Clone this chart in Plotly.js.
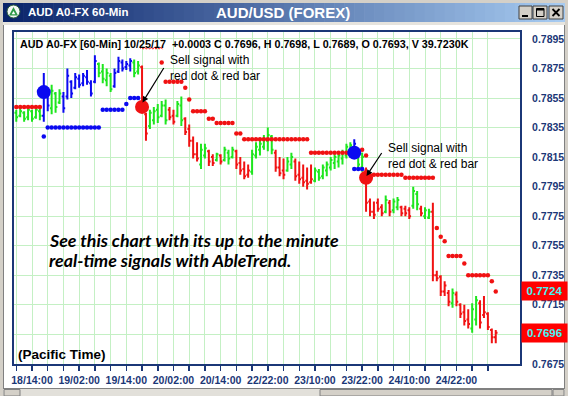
<!DOCTYPE html>
<html>
<head>
<meta charset="utf-8">
<script src="https://cdn.plot.ly/plotly-3.0.1.min.js"></script>
<style>
  html, body { margin: 0; padding: 0; background: #ffffff; }
  #chart { width: 568px; height: 396px; }
</style>
</head>
<body>
<div id="chart"></div>
<script>
// ---- AUD/USD hourly bars, 18th 10:00 to 25th (Pacific Time) ----
const firstBar = -4;   // bar number of the first bar (0 = 18/14:00)

const openP = [
  .7845,.7843,.7845,.7842,.7846,.7842,.7846,.7843,.7858,.7848,
  .7858,.7852,.7856,.7856,.7866,.7862,.7868,.7865,.7869,.7865,
  .7866,.7878,.7873,.7867,.7870,.7863,.7873,.7879,.7876,.7877,
  .7879,.7873,.7876,.7844,.7836,.7840,.7847,.7843,.7850,.7847,
  .7843,.7843,.7850,.7841,.7834,.7826,.7817,.7810,.7816,.7819,
  .7815,.7813,.7816,.7813,.7818,.7815,.7819,.7811,.7807,.7803,
  .7805,.7816,.7820,.7822,.7826,.7829,.7818,.7808,.7806,.7806,
  .7810,.7812,.7803,.7801,.7799,.7798,.7799,.7805,.7802,.7806,
  .7808,.7811,.7812,.7814,.7816,.7820,.7818,.7818,.7808,.7806,
  .7785,.7778,.7784,.7781,.7778,.7784,.7779,.7781,.7781,.7780,
  .7779,.7782,.7790,.7780,.7775,.7774,.7778,.7735,.7734,.7724,
  .7723,.7716,.7722,.7715,.7710,.7705,.7699,.7705,.7716,.7708,
  .7709,.7698,.7693
];
const highP = [
  .7847,.7848,.7846,.7848,.7847,.7849,.7848,.7872,.7862,.7864,
  .7859,.7861,.7859,.7875,.7867,.7872,.7871,.7872,.7874,.7867,
  .7884,.7879,.7878,.7875,.7872,.7875,.7883,.7881,.7880,.7882,
  .7881,.7880,.7877,.7845,.7847,.7849,.7851,.7853,.7854,.7849,
  .7847,.7853,.7856,.7842,.7837,.7829,.7825,.7824,.7824,.7820,
  .7817,.7818,.7817,.7822,.7820,.7822,.7820,.7815,.7812,.7810,
  .7820,.7825,.7827,.7830,.7835,.7830,.7820,.7815,.7814,.7815,
  .7818,.7814,.7812,.7810,.7808,.7810,.7808,.7807,.7810,.7812,
  .7815,.7817,.7818,.7820,.7824,.7825,.7827,.7820,.7818,.7808,
  .7787,.7785,.7787,.7783,.7789,.7786,.7787,.7788,.7782,.7782,
  .7781,.7795,.7792,.7782,.7781,.7780,.7784,.7738,.7735,.7731,
  .7725,.7726,.7724,.7716,.7715,.7712,.7716,.7721,.7718,.7721,
  .7710,.7699,.7698
];
const lowP = [
  .7839,.7842,.7839,.7840,.7839,.7841,.7840,.7839,.7846,.7844,
  .7845,.7851,.7845,.7854,.7855,.7861,.7862,.7863,.7864,.7856,
  .7865,.7869,.7865,.7863,.7859,.7862,.7872,.7873,.7874,.7873,
  .7869,.7871,.7846,.7826,.7834,.7837,.7838,.7842,.7837,.7840,
  .7837,.7842,.7836,.7830,.7822,.7814,.7812,.7807,.7814,.7809,
  .7809,.7812,.7810,.7812,.7810,.7814,.7807,.7803,.7800,.7801,
  .7803,.7814,.7816,.7820,.7819,.7817,.7805,.7802,.7800,.7805,
  .7807,.7799,.7797,.7795,.7793,.7797,.7798,.7799,.7800,.7802,
  .7806,.7807,.7808,.7810,.7814,.7815,.7814,.7807,.7805,.7778,
  .7775,.7773,.7778,.7775,.7777,.7775,.7777,.7779,.7775,.7775,
  .7773,.7780,.7779,.7775,.7773,.7773,.7731,.7731,.7721,.7721,
  .7714,.7713,.7714,.7706,.7701,.7699,.7696,.7701,.7699,.7706,
  .7698,.7689,.7689
];
const closeP = [
  .7842,.7846,.7841,.7847,.7841,.7847,.7843,.7860,.7850,.7860,
  .7849,.7858,.7848,.7870,.7858,.7869,.7864,.7870,.7866,.7858,
  .7880,.7872,.7868,.7872,.7861,.7872,.7880,.7875,.7878,.7880,
  .7872,.7877,.7849,.7831,.7845,.7846,.7842,.7850,.7840,.7842,
  .7839,.7851,.7840,.7832,.7826,.7817,.7814,.7820,.7821,.7812,
  .7811,.7817,.7812,.7820,.7814,.7820,.7810,.7806,.7802,.7806,
  .7817,.7822,.7824,.7827,.7830,.7820,.7808,.7804,.7803,.7812,
  .7815,.7802,.7800,.7798,.7797,.7800,.7806,.7801,.7808,.7810,
  .7813,.7815,.7816,.7818,.7822,.7823,.7824,.7810,.7815,.7784,
  .7778,.7776,.7780,.7777,.7786,.7778,.7785,.7786,.7777,.7777,
  .7775,.7792,.7783,.7777,.7779,.7778,.7735,.7733,.7724,.7728,
  .7717,.7723,.7717,.7709,.7704,.7702,.7712,.7718,.7703,.7710,
  .7700,.7693,.7696
];
// AbleTrend state of each bar: U = up (blue), D = down (red), N = neutral (green)
const trend = [
  'N','N','N','N','N','N','N','U','U','N',
  'N','N','U','U','U','U','U','U','U','U',
  'U','N','N','N','N','U','U','U','U','U',
  'N','N','D','D','N','N','N','N','N','D',
  'D','N','N','D','D','D','D','N','N','D',
  'D','N','D','N','N','N','D','D','D','D',
  'N','N','N','N','N','N','D','D','D','N',
  'N','D','D','D','D','D','N','N','N','N',
  'N','N','N','N','N','N','U','N','N','D',
  'D','D','D','D','N','D','N','N','D','D',
  'D','N','N','D','N','N','D','D','D','D',
  'D','N','D','D','D','D','N','N','D','D',
  'D','D','D'
];
// Trailing stop levels (null = no stop drawn on that bar)
const redStop = [
  .7849,.7849,.7849,.7849,.7849,.7849,.7849,null,null,null,
  null,null,null,null,null,null,null,null,null,null,
  null,null,null,null,null,null,null,null,null,null,
  null,null,null,null,null,null,null,.7879,.7866,.7866,
  .7866,.7866,.7866,.7862,.7854,.7846,.7846,.7846,.7846,.7841,
  .7841,.7838,.7838,.7838,.7838,.7838,.7831,.7831,.7827,.7827,
  .7827,.7827,.7827,.7827,.7827,.7827,.7827,.7827,.7827,.7827,
  .7827,.7827,.7827,.7827,.7827,.7818,.7818,.7818,.7818,.7818,
  .7818,.7818,.7818,.7818,.7818,null,null,null,.7820,.7816,
  null,.7803,.7803,.7803,.7803,.7803,.7803,.7803,.7803,.7801,
  .7801,.7801,.7801,.7801,.7801,.7801,.7801,.7767,.7761,.7758,
  .7748,.7748,.7748,.7748,.7743,.7735,.7735,.7735,.7735,.7735,
  .7735,.7731,.7724
];
const blueStop = [
  null,null,null,null,null,null,null,.7829,.7835,.7835,
  .7835,.7835,.7835,.7835,.7835,.7835,.7835,.7835,.7835,.7835,
  .7835,.7835,.7847,.7847,.7847,.7847,.7847,.7847,.7851,.7855,
  .7855,.7855,null,null,null,null,null,null,null,null,
  null,null,null,null,null,null,null,null,null,null,
  null,null,null,null,null,null,null,null,null,null,
  null,null,null,null,null,null,null,null,null,null,
  null,null,null,null,null,null,null,null,null,null,
  null,null,null,null,null,null,.7807,.7807,.7807,null,
  null,null,null,null,null,null,null,null,null,null,
  null,null,null,null,null,null,null,null,null,null,
  null,null,null,null,null,null,null,null,null,null,
  null,null,null
];
// Signal dots
const buyBars = [3, 82];
const buyPrices = [0.7859, 0.7818];
const sellBars = [28, 85];
const sellPrices = [0.7849, 0.7801];

// Axis labels
const timeLabels = ['18/14:00','19/02:00','19/14:00','20/02:00','20/14:00',
                    '22/22:00','23/10:00','23/22:00','24/10:00','24/22:00'];
const timeLabelBars = [0, 12, 24, 36, 48, 60, 72, 84, 96, 108];
const priceTicks = [0.7675,0.7695,0.7715,0.7735,0.7755,0.7775,
                    0.7795,0.7815,0.7835,0.7855,0.7875,0.7895];

const symbol = 'AUD A0-FX';
const barDate = '10/25/17';
const lastVolume = '39.7230K';

// ---- styles ----
const GREEN = '#1ee61e', BLUE = '#0a0af0', RED = '#f01212';
const NAVY = '#1b3777', GRID = '#c4f0c4';
const FONT = 'Liberation Sans, Arial, sans-serif';

const barX = openP.map((_, k) => firstBar + k);

function ohlcTrace(state, color) {
  const idx = trend.map((t, k) => t === state ? k : -1).filter(k => k >= 0);
  const pick = arr => idx.map(k => arr[k]);
  return {
    type: 'ohlc',
    x: pick(barX), open: pick(openP), high: pick(highP), low: pick(lowP), close: pick(closeP),
    increasing: {line: {color: color, width: 2}},
    decreasing: {line: {color: color, width: 2}},
    line: {width: 2},
    tickwidth: 0.45,
    hoverinfo: 'skip'
  };
}

const traces = [
  ohlcTrace('N', GREEN),
  ohlcTrace('U', BLUE),
  ohlcTrace('D', RED),
  {type: 'scatter', mode: 'markers', x: barX, y: redStop,
   marker: {color: RED, size: 4.5, line: {width: 0}}, hoverinfo: 'skip'},
  {type: 'scatter', mode: 'markers', x: barX, y: blueStop,
   marker: {color: BLUE, size: 4.5, line: {width: 0}}, hoverinfo: 'skip'},
  {type: 'scatter', mode: 'markers', x: buyBars, y: buyPrices,
   marker: {color: BLUE, size: 14, line: {width: 0}}, hoverinfo: 'skip'},
  {type: 'scatter', mode: 'markers', x: sellBars, y: sellPrices,
   marker: {color: RED, size: 14, line: {width: 0}}, hoverinfo: 'skip'}
];

// ---- window chrome, placed in pixels of the 568x396 page ----
const PL = 14, PR = 520, PT = 32, PB = 364;
const px = v => (v - PL) / (PR - PL);
const py = v => (PB - v) / (PB - PT);
const shapes = [];
function box(x0, y0, x1, y1, fill, line, lw) {
  shapes.push({type: 'rect', xref: 'paper', yref: 'paper',
    x0: px(x0), x1: px(x1), y0: py(y0), y1: py(y1),
    fillcolor: fill, line: {color: line || fill, width: lw || 0}, layer: 'above'});
}
function seg(x0, y0, x1, y1, color, w) {
  shapes.push({type: 'line', xref: 'paper', yref: 'paper',
    x0: px(x0), x1: px(x1), y0: py(y0), y1: py(y1),
    line: {color: color, width: w}, layer: 'above'});
}

// frame
box(0, 0, 568, 3, '#d4d0c8');
box(0, 0, 3, 396, '#d4d0c8');
box(565, 0, 568, 396, '#d4d0c8');
seg(3.5, 22, 3.5, 389, '#808080', 1);
seg(564.5, 22, 564.5, 389, '#808080', 1);
box(3, 22, 565, 25, '#e6e4de');

// title bar gradient
const c0 = [10, 36, 106], c1 = [166, 202, 240];
const tbL = 3, tbR = 565, steps = 56;
for (let s = 0; s < steps; s++) {
  const f = s / (steps - 1);
  const c = c0.map((v, j) => Math.round(v + (c1[j] - v) * f));
  const xa = tbL + (tbR - tbL) * s / steps;
  const xb = tbL + (tbR - tbL) * (s + 1) / steps + 0.6;
  box(xa, 3, Math.min(xb, tbR), 22, `rgb(${c[0]},${c[1]},${c[2]})`);
}
// icon
shapes.push({type: 'circle', xref: 'paper', yref: 'paper',
  x0: px(7), x1: px(20), y0: py(5), y1: py(18),
  fillcolor: '#f4f8f4', line: {color: '#2f5f3f', width: 1}, layer: 'above'});
shapes.push({type: 'path', xref: 'paper', yref: 'paper', layer: 'above',
  path: `M${px(13.5)},${py(7)} L${px(18)},${py(15.5)} L${px(9)},${py(15.5)} Z`,
  fillcolor: '#2e9a46', line: {color: '#2e9a46', width: 0}});
shapes.push({type: 'path', xref: 'paper', yref: 'paper', layer: 'above',
  path: `M${px(13.5)},${py(11)} L${px(15.3)},${py(14.3)} L${px(11.7)},${py(14.3)} Z`,
  fillcolor: '#ffffff', line: {color: '#ffffff', width: 0}});
// window buttons
[[519, 532], [533, 547], [549, 563]].forEach(([a, b]) => {
  box(a, 6, b, 19, '#d4d0c8', '#404040', 1);
});
box(522, 15, 528, 17, '#000000');
box(536.5, 8.5, 544, 16.5, 'rgba(0,0,0,0)', '#000000', 1);
box(536.5, 8.5, 544, 10.5, '#000000');
seg(552.5, 9, 559.5, 16, '#000000', 1.8);
seg(559.5, 9, 552.5, 16, '#000000', 1.8);

// bottom scroll bar
box(3, 389, 565, 396, '#e2e0da');
seg(3, 388.5, 565, 388.5, '#808080', 1);
box(4, 389.5, 20, 396, '#d4d0c8', '#808080', 1);
box(320, 389.5, 552, 396, '#d4d0c8', '#808080', 1);
box(553, 389.5, 564, 396, '#d4d0c8', '#808080', 1);

// red wavy underline under the date in the header
let wave = `M${px(140)},${py(48.5)}`;
for (let k = 1; k <= 14; k++) {
  wave += ` L${px(140 + k * 1.6)},${py(k % 2 ? 47.2 : 49.2)}`;
}
shapes.push({type: 'path', xref: 'paper', yref: 'paper', layer: 'above',
  path: wave, line: {color: '#ff2020', width: 1}});

// ---- texts ----
const n = closeP.length;
const lastO = openP[n - 1], lastH = highP[n - 1], lastL = lowP[n - 1], lastC = closeP[n - 1];
const chg = lastC - closeP[n - 2];
const chgText = (chg >= 0 ? '+' : '-') + Math.abs(chg).toFixed(4);
const header = `${symbol} [60-Min] ${barDate}\u00a0\u00a0${chgText} C ${lastC.toFixed(4)}, ` +
  `H ${lastH.toFixed(4)}, L ${lastL.toFixed(4)}, O ${lastO.toFixed(4)}, V ${lastVolume}`;
const lastStop = redStop[n - 1];

function label(x, y, text, opts) {
  return Object.assign({xref: 'paper', yref: 'paper', x: px(x), y: py(y), text: text,
    showarrow: false, xanchor: 'left', yanchor: 'middle',
    font: {family: FONT, size: 12, color: '#000000'}}, opts || {});
}
function arrow(hx, hy, tx, ty) {
  return {xref: 'paper', yref: 'paper', x: px(hx), y: py(hy), text: ' ',
    showarrow: true, ax: tx - hx, ay: ty - hy, arrowhead: 2, arrowsize: 1,
    arrowwidth: 1.2, arrowcolor: '#000000', font: {size: 1}};
}

const boxFont = {family: FONT, size: 11.5, color: '#44f4f4', weight: 'bold'};
const annotations = [
  label(26, 12.5, symbol + ' 60-Min', {font: {family: FONT, size: 11.5, color: '#ffffff', weight: 'bold'}}),
  label(283, 12.5, 'AUD/USD (FOREX)', {xanchor: 'center', font: {family: FONT, size: 15, color: '#ffffff', weight: 'bold'}}),
  label(18, 43.5, header, {font: {family: FONT, size: 10.75, color: '#000000', weight: 'bold'}}),
  label(168, 51, 'Sell signal with<br>red dot &amp; red bar', {yanchor: 'top', align: 'left'}),
  label(386, 139, 'Sell signal with<br>red dot &amp; red bar', {yanchor: 'top', align: 'left'}),
  arrow(142.5, 102.5, 165, 66),
  arrow(366.5, 176, 383, 151),
  label(47, 240, 'See this chart with its up to the minute',
    {font: {family: 'Lato, sans-serif', size: 17.8, color: '#000000', weight: 'bold', style: 'italic'}}),
  label(47, 260, 'real-time signals with AbleTrend.',
    {font: {family: 'Lato, sans-serif', size: 17.8, color: '#000000', weight: 'bold', style: 'italic'}}),
  label(16, 354, '(Pacific Time)', {font: {family: FONT, size: 13.5, color: '#000000', weight: 'bold'}}),
  // last stop and last close price boxes
  {xref: 'paper', yref: 'y', x: px(544.5), y: lastStop, text: lastStop.toFixed(4),
   showarrow: false, xanchor: 'center', yanchor: 'middle', bgcolor: '#ff0000',
   width: 43, height: 16, font: boxFont},
  {xref: 'paper', yref: 'y', x: px(544.5), y: lastC, text: lastC.toFixed(4),
   showarrow: false, xanchor: 'center', yanchor: 'middle', bgcolor: '#ff0000',
   width: 43, height: 16, font: boxFont}
];

// ---- axes ----
const xTickVals = [], xTickText = [];
for (let b = -4; b <= 116; b += 4) {
  xTickVals.push(b);
  const j = timeLabelBars.indexOf(b);
  xTickText.push(j >= 0 ? timeLabels[j] : '');
}
const tickFont = {family: FONT, size: 10.5, color: NAVY, weight: 'bold'};
// a price label that sits under one of the price boxes is left out
const hidden = v => Math.abs(v - lastC) < 0.0008 || Math.abs(v - lastStop) < 0.0008;
const yTickText = priceTicks.map(v => hidden(v) ? '' : v.toFixed(4));

const layout = {
  width: 568, height: 396,
  margin: {l: PL, r: 568 - PR, t: PT, b: 396 - PB, pad: 0},
  paper_bgcolor: '#ffffff', plot_bgcolor: '#ffffff',
  showlegend: false, hovermode: false, dragmode: false,
  xaxis: {
    range: [-4.58, 124.17], fixedrange: true,
    tickmode: 'array', tickvals: xTickVals, ticktext: xTickText,
    ticks: 'outside', ticklen: 5, tickwidth: 1.5, tickcolor: NAVY,
    showgrid: true, gridcolor: GRID, gridwidth: 1,
    showline: true, linecolor: NAVY, linewidth: 2, mirror: true,
    zeroline: false, tickfont: tickFont, tickangle: 0,
    rangeslider: {visible: false}
  },
  yaxis: {
    side: 'right', range: [0.76749, 0.78997], fixedrange: true,
    tickmode: 'array', tickvals: priceTicks, ticktext: yTickText,
    ticks: '', showgrid: true, gridcolor: GRID, gridwidth: 1,
    showline: true, linecolor: NAVY, linewidth: 2, mirror: true,
    zeroline: false, tickfont: tickFont, ticklabelstandoff: 8
  },
  shapes: shapes,
  annotations: annotations
};

Plotly.newPlot('chart', traces, layout, {staticPlot: true, displayModeBar: false});
</script>
</body>
</html>
